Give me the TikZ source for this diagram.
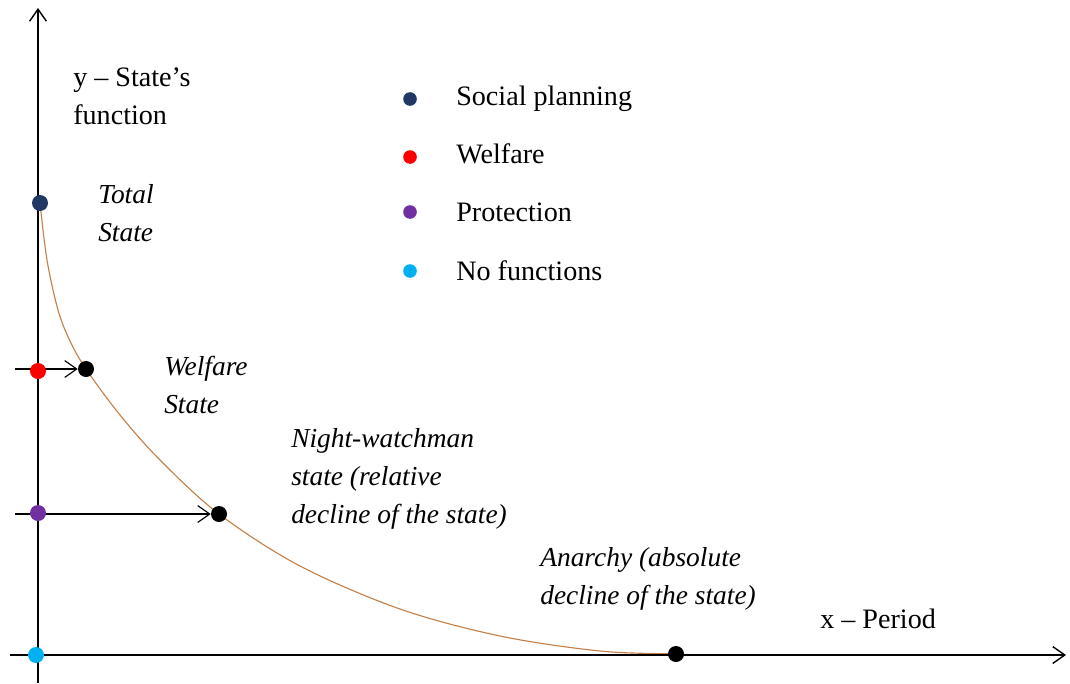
\documentclass[tikz,border=0pt]{standalone}
\usepackage{fontspec}
\setmainfont{Liberation Serif}
\usepackage{xcolor}
\usetikzlibrary{positioning,arrows.meta,backgrounds}

\definecolor{navy}{RGB}{31,56,100}
\definecolor{purp}{RGB}{112,48,160}
\definecolor{sky}{RGB}{0,176,240}
\definecolor{curvebrown}{RGB}{196,128,72}

\begin{document}
\begin{tikzpicture}[x=0.025cm, y=-0.025cm, >={Straight Barb[length=3mm,width=4.2mm]},
    dot/.style={circle, fill=#1, inner sep=0pt, minimum size=0.4cm},
    keydot/.style={circle, fill=#1, inner sep=0pt, minimum size=0.34cm},
    lab/.style={anchor=west, align=left, font=\fontsize{19.5}{27}\selectfont\itshape, inner sep=0pt},
    txt/.style={anchor=west, align=left, font=\fontsize{20}{27}\selectfont, inner sep=0pt}]
    \useasboundingbox (0,0) rectangle (1070,683);

    % axes
    \coordinate (origin) at (38,655);
    \coordinate (ytop) at (38,8);
    \coordinate (ybot) at (38,683);
    \coordinate (xleft) at (10,655);
    \coordinate (xright) at (1066,655);
    \draw[line width=1pt, ->] (ybot) -- (ytop);
    \draw[line width=1pt, ->] (xleft) -- (xright);

    % points on the curve
    \node[dot=navy] (total) at (40,203) {};
    \node[dot=black] (welfare) at (86,369) {};
    \node[dot=black] (night) at (219,514) {};
    \node[dot=black] (anarchy) at (676,654) {};

    \begin{scope}[on background layer]
    \draw[curvebrown, line width=0.8pt] plot[smooth, tension=0.55] coordinates {
        (total.center) (47,260) (58,310) (70,341) (welfare.center) (120,415) (160,460)
        (night.center) (300,566) (400,609) (500,636) (600,651) (anarchy.center) (695,655)};
    \end{scope}

    % functions on the y axis
    \coordinate (wstart) at (15,369);
    \coordinate (nstart) at (15,514);
    \draw[line width=0.8pt, ->] (wstart) -- (welfare);
    \draw[line width=0.8pt, ->] (nstart) -- (night);
    \node[dot=red] (fwelfare) at (38,371) {};
    \node[dot=purp] (fprotect) at (38,513) {};
    \node[dot=sky] (fnone) at (36,655) {};

    % labels
    \node[txt] (ylab) at (73,96) {y -- State's\\function};
    \node[txt] (xlab) at (820,619) {x -- Period};
    \node[lab] (totallab) at (98,213) {Total\\State};
    \node[lab] (welfarelab) at (164,385) {Welfare\\State};
    \node[lab] (nightlab) at (291,479) {Night-watchman\\state (relative\\decline of the state)};
    \node[lab] (anarchylab) at (540,579) {Anarchy (absolute\\decline of the state)};

    % legend
    \node[keydot=navy] (k1) at (410,99) {};
    \node[keydot=red] (k2) at (410,157) {};
    \node[keydot=purp] (k3) at (410,212) {};
    \node[keydot=sky] (k4) at (410,271) {};
    \node[txt, right=1.15cm of k1.center] {Social planning};
    \node[txt, right=1.15cm of k2.center, yshift=2pt] {Welfare};
    \node[txt, right=1.15cm of k3.center] {Protection};
    \node[txt, right=1.15cm of k4.center] {No functions};
\end{tikzpicture}
\end{document}
